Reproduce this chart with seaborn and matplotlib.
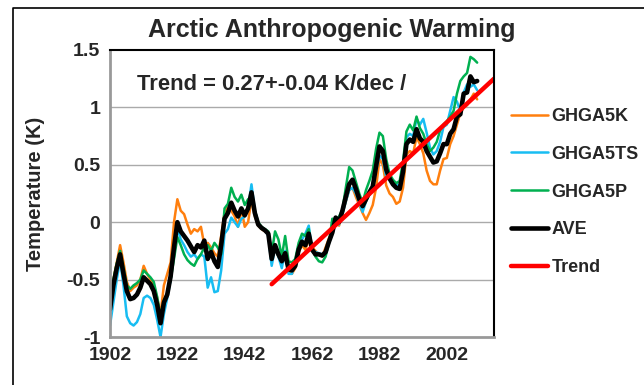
import numpy as np
import pandas as pd
import matplotlib
matplotlib.use("Agg")
import matplotlib.pyplot as plt
import seaborn as sns
from matplotlib.lines import Line2D
from matplotlib.ticker import MultipleLocator, FuncFormatter

# ========================
# DATA
# ========================
years = list(range(1902, 2012))

ghga5k = [
    -0.70, -0.50, -0.35, -0.20, -0.35, -0.52, -0.60, -0.57, -0.55, -0.50,
    -0.38, -0.45, -0.50, -0.55, -0.66, -0.80, -0.55, -0.45, -0.35, 0.00,
    0.20, 0.10, 0.07, -0.02, -0.10, -0.06, -0.08, -0.04, -0.20, -0.18,
    -0.22, -0.27, -0.30, -0.12, 0.08, 0.13, 0.10, 0.05, -0.04, 0.12,
    -0.04, 0.00, 0.20, 0.05, -0.03, -0.06, -0.08, -0.10, -0.30, -0.22,
    -0.30, -0.35, -0.30, -0.42, -0.45, -0.40, -0.26, -0.20, -0.24, -0.15,
    -0.22, -0.25, -0.28, -0.30, -0.22, -0.14, -0.08, 0.00, -0.03, 0.08,
    0.18, 0.28, 0.30, 0.22, 0.15, 0.08, 0.02, 0.08, 0.15, 0.30,
    0.55, 0.50, 0.32, 0.25, 0.22, 0.16, 0.18, 0.30, 0.59, 0.62,
    0.60, 0.74, 0.68, 0.60, 0.45, 0.36, 0.33, 0.33, 0.45, 0.55,
    0.56, 0.68, 0.75, 0.85, 0.95, 1.00, 1.02, 1.07, 1.12, 1.07,
]
ghga5ts = [
    -0.90, -0.70, -0.50, -0.33, -0.55, -0.82, -0.88, -0.90, -0.87, -0.80,
    -0.66, -0.64, -0.66, -0.72, -0.85, -1.00, -0.80, -0.66, -0.50, -0.25,
    -0.05, -0.15, -0.20, -0.26, -0.30, -0.28, -0.32, -0.28, -0.30, -0.57,
    -0.48, -0.61, -0.60, -0.42, -0.10, -0.06, 0.04, 0.00, -0.04, 0.03,
    0.05, 0.12, 0.33, 0.10, -0.01, -0.05, -0.07, -0.12, -0.38, -0.22,
    -0.30, -0.40, -0.25, -0.45, -0.45, -0.35, -0.20, -0.15, -0.10, -0.03,
    -0.24, -0.26, -0.27, -0.28, -0.27, -0.18, -0.10, 0.00, -0.02, 0.07,
    0.18, 0.28, 0.30, 0.25, 0.17, 0.09, 0.18, 0.25, 0.30, 0.45,
    0.58, 0.55, 0.40, 0.38, 0.35, 0.33, 0.32, 0.46, 0.74, 0.77,
    0.75, 0.90, 0.85, 0.90, 0.78, 0.65, 0.59, 0.62, 0.70, 0.83,
    0.85, 0.97, 1.09, 1.05, 0.97, 1.13, 1.20, 1.18, 1.20, 1.15,
]
ghga5p = [
    -0.70, -0.50, -0.36, -0.25, -0.40, -0.55, -0.58, -0.55, -0.53, -0.50,
    -0.42, -0.45, -0.48, -0.52, -0.65, -0.82, -0.68, -0.62, -0.50, -0.32,
    -0.13, -0.20, -0.28, -0.33, -0.36, -0.38, -0.32, -0.28, -0.22, -0.20,
    -0.25, -0.18, -0.22, -0.28, 0.12, 0.16, 0.30, 0.22, 0.18, 0.24,
    0.15, 0.20, 0.22, 0.10, 0.00, -0.04, -0.06, -0.08, -0.27, -0.08,
    -0.15, -0.30, -0.12, -0.34, -0.35, -0.32, -0.18, -0.10, -0.12, -0.06,
    -0.24, -0.30, -0.34, -0.35, -0.30, -0.18, 0.03, 0.02, 0.05, 0.11,
    0.30, 0.48, 0.45, 0.35, 0.25, 0.17, 0.28, 0.36, 0.45, 0.64,
    0.78, 0.75, 0.55, 0.42, 0.37, 0.34, 0.36, 0.53, 0.79, 0.85,
    0.80, 0.92, 0.82, 0.77, 0.68, 0.62, 0.65, 0.70, 0.80, 0.85,
    0.88, 0.92, 0.97, 1.12, 1.23, 1.27, 1.30, 1.44, 1.42, 1.39,
]
ave = [
    -0.76, -0.55, -0.40, -0.28, -0.45, -0.60, -0.67, -0.66, -0.63, -0.57,
    -0.48, -0.51, -0.54, -0.60, -0.72, -0.88, -0.70, -0.63, -0.47, -0.22,
    0.00, -0.08, -0.12, -0.16, -0.21, -0.26, -0.20, -0.22, -0.16, -0.32,
    -0.26, -0.34, -0.39, -0.20, 0.03, 0.08, 0.17, 0.10, 0.05, 0.12,
    0.06, 0.12, 0.26, 0.08, -0.02, -0.05, -0.07, -0.10, -0.32, -0.20,
    -0.28, -0.34, -0.27, -0.41, -0.42, -0.38, -0.24, -0.17, -0.20, -0.10,
    -0.24, -0.28, -0.28, -0.29, -0.26, -0.17, -0.09, 0.04, 0.00, 0.10,
    0.22, 0.33, 0.37, 0.29, 0.20, 0.14, 0.20, 0.26, 0.31, 0.49,
    0.66, 0.62, 0.46, 0.38, 0.33, 0.30, 0.29, 0.44, 0.68, 0.72,
    0.70, 0.81, 0.73, 0.70, 0.62, 0.57, 0.52, 0.53, 0.60, 0.68,
    0.68, 0.77, 0.81, 0.92, 0.94, 1.12, 1.13, 1.27, 1.22, 1.23,
]

trend_years = [1950, 2016]
trend_values = [-0.54, 1.25]

series_names = ["GHGA5K", "GHGA5TS", "GHGA5P", "AVE"]
series_colors = ["#FF7F0E", "#18BDF2", "#00B050", "#000000"]
series_widths = [1.8, 1.8, 1.8, 3.3]

df = pd.DataFrame({"Year": years, "GHGA5K": ghga5k, "GHGA5TS": ghga5ts,
                   "GHGA5P": ghga5p, "AVE": ave})

# ========================
# PLOT
# ========================
sns.set_style("white")
plt.rcParams["font.family"] = ["Liberation Sans", "DejaVu Sans"]
plt.rcParams["font.weight"] = "bold"

fig = plt.figure(figsize=(6.44, 3.85), dpi=100)
ax = fig.add_axes([110 / 644, 1 - 337 / 385, 384 / 644, 287 / 385])

for name, color, lw in zip(series_names, series_colors, series_widths):
    sns.lineplot(data=df, x="Year", y=name, ax=ax, color=color, linewidth=lw)

trend_df = pd.DataFrame({"Year": trend_years, "Trend": trend_values})
sns.lineplot(data=trend_df, x="Year", y="Trend", ax=ax, color="#FF0000",
             linewidth=3.2)

ax.set_xlim(1902, 2016)
ax.set_ylim(-1, 1.5)

# grid lines
for yv in [-0.5, 0, 0.5, 1.0]:
    ax.axhline(yv, color="#AAAAAA", linewidth=1.0, zorder=0)

# spines
ax.spines["top"].set_color("black")
ax.spines["right"].set_color("black")
ax.spines["top"].set_linewidth(1.5)
ax.spines["right"].set_linewidth(1.5)
ax.spines["left"].set_color("#999999")
ax.spines["bottom"].set_color("#999999")
ax.spines["left"].set_linewidth(2.0)
ax.spines["bottom"].set_linewidth(2.0)

# ticks
ax.xaxis.set_major_locator(MultipleLocator(5, offset=2))
ax.xaxis.set_minor_locator(MultipleLocator(2.5, offset=2))
ax.xaxis.set_major_formatter(FuncFormatter(
    lambda v, p: f"{int(round(v))}" if (int(round(v)) - 1902) % 20 == 0 and v < 2010 else ""))
ax.tick_params(axis="x", which="major", direction="in", length=7, width=1,
               color="#999999", labelsize=14, pad=7)
ax.tick_params(axis="x", which="minor", direction="in", length=4, width=1,
               color="#999999")

ax.yaxis.set_major_locator(MultipleLocator(0.5))
ax.yaxis.set_minor_locator(MultipleLocator(0.1))
ax.yaxis.set_major_formatter(FuncFormatter(
    lambda v, p: "0" if abs(v) < 1e-9 else (f"{v:g}")))
ax.tick_params(axis="y", which="major", direction="out", length=4, width=1,
               color="#999999", labelsize=14, pad=3)
ax.tick_params(axis="y", which="minor", direction="in", length=4, width=1,
               color="#999999")
for lab in ax.get_xticklabels() + ax.get_yticklabels():
    lab.set_fontweight("bold")

ax.set_xlabel("")
ax.set_ylabel("Temperature (K)", fontsize=14.5, fontweight="bold")
ax.yaxis.set_label_coords(-0.17, 0.5)

fig.text(332 / 644, 1 - 30 / 385, "Arctic Anthropogenic Warming",
         ha="center", va="center", fontsize=18, fontweight="bold")
ax.text(137 / 644, 1 - 85 / 385, "Trend = 0.27+-0.04 K/dec /",
        transform=fig.transFigure, ha="left", va="center",
        fontsize=15.8, fontweight="bold")

# legend
handles = [Line2D([0], [0], color=c, linewidth=w)
           for c, w in zip(series_colors, series_widths)]
handles.append(Line2D([0], [0], color="#FF0000", linewidth=3.2))
labels = series_names + ["Trend"]
leg = fig.legend(handles, labels, loc="upper left",
                 bbox_to_anchor=(502 / 644, 1 - 99 / 385), frameon=False,
                 borderpad=0, handlelength=2.05, handletextpad=0.2,
                 labelspacing=1.15, prop={"weight": "bold", "size": 13})

# outer frame
fig.add_artist(Line2D([13 / 644, 13 / 644, 1.0], [0.0, 1 - 8 / 385, 1 - 8 / 385],
                      transform=fig.transFigure, color="black", linewidth=1.2))

fig.savefig("out.png", dpi=100)
